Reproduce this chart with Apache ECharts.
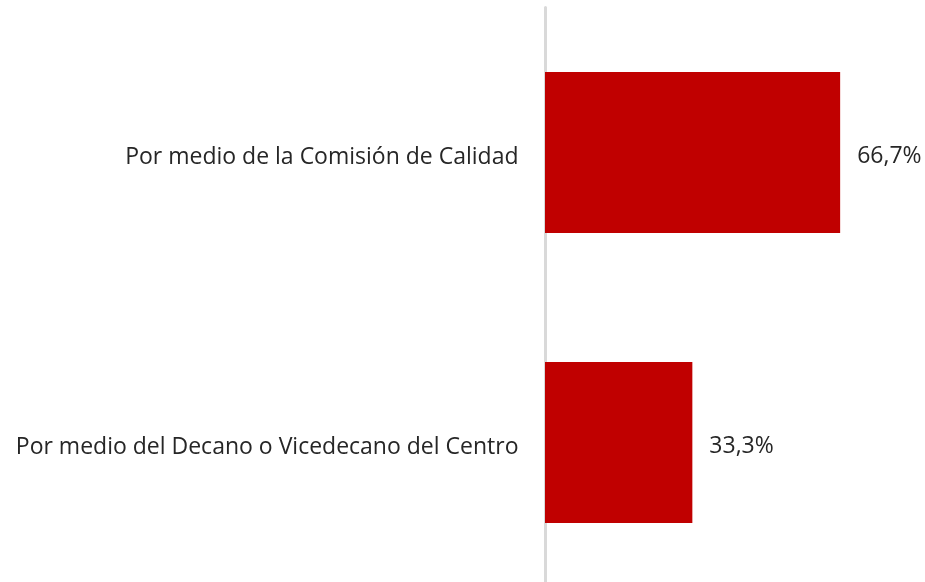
<!DOCTYPE html>
<html>
<head>
<meta charset="utf-8">
<script src="https://cdn.jsdelivr.net/npm/echarts@6/dist/echarts.min.js"></script>
<style>
  html, body { margin: 0; padding: 0; background: #fff; }
  #chart { width: 925px; height: 582px; }
</style>
</head>
<body>
<div id="chart"></div>
<script>
// categories bottom -> top, as the y axis draws them
const categories = [
  'Por medio del Decano o Vicedecano del Centro',
  'Por medio de la Comisión de Calidad'
]
const values = [33.3, 66.7]

const chart = echarts.init(document.getElementById('chart'))

const option = {
  animation: false,
  grid: {
    left: 545,
    right: 26,
    top: 7.5,
    height: 580,
    outerBoundsMode: 'none'
  },
  xAxis: {
    type: 'value',
    min: 0,
    max: 80,
    show: false
  },
  yAxis: {
    type: 'category',
    data: categories,
    offset: 1.5,
    axisLine: { lineStyle: { color: '#d9d9d9', width: 3 } },
    axisTick: { show: false },
    axisLabel: {
      margin: 25,
      formatter: v => '{t|' + v + '}',
      rich: {
        t: {
          color: '#262626',
          fontFamily: 'Open Sans',
          fontSize: 23,
          padding: [9, 0, 0, 0]
        }
      }
    }
  },
  series: [
    {
      type: 'bar',
      data: values,
      barWidth: 161,
      itemStyle: { color: '#c00000' },
      label: {
        show: true,
        position: 'right',
        distance: 17,
        offset: [0, 4],
        color: '#262626',
        fontFamily: 'Open Sans',
        fontSize: 23,
        formatter: p => p.value.toFixed(1).replace('.', ',') + '%'
      }
    }
  ]
}
chart.setOption(option)
</script>
</body>
</html>
